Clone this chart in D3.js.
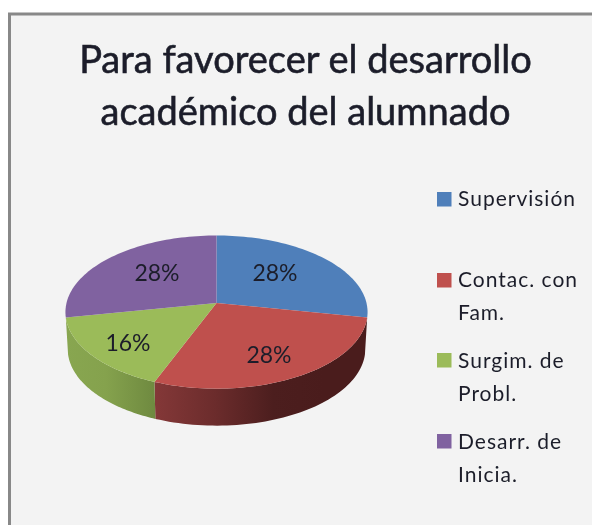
<!DOCTYPE html>
<html><head><meta charset="utf-8">
<script src="https://cdn.jsdelivr.net/npm/d3@7/dist/d3.min.js"></script>
<style>html,body{margin:0;padding:0;background:#fff}svg{display:block}text{font-family:"Lato","Open Sans",sans-serif;fill:#1c1f2a}</style>
</head><body><svg id="c" width="592" height="525"></svg>
<script>
const categories = ["Supervisión", "Contac. con Fam.", "Surgim. de Probl.", "Desarr. de Inicia."];
const legendLines = [["Supervisión"], ["Contac. con", "Fam."], ["Surgim. de", "Probl."], ["Desarr. de", "Inicia."]];
const values = [28, 28, 16, 28];
const colors = ["#4f7fba", "#bf504d", "#9bbb59", "#8062a0"];
const titleLines = ["Para favorecer el desarrollo", "académico del alumnado"];

const svg = d3.select("#c");
const defs = svg.append("defs");
defs.append("filter").attr("id","soft").append("feGaussianBlur").attr("stdDeviation",0.5);

// frame
svg.append("rect").attr("x",9.5).attr("y",14).attr("width",600).attr("height",530)
  .attr("fill","#f3f3f3").attr("stroke","#888").attr("stroke-width",3);

// title
const tg = svg.append("g").attr("filter","url(#soft)");
tg.selectAll("text").data(titleLines).join("text")
  .attr("x",305.5).attr("y",(d,i)=>73+i*52).attr("text-anchor","middle")
  .attr("font-size",38).attr("stroke","#1c1f2a").attr("stroke-width",0.6).text(d=>d);

// perspective pie
const cx=216.5, cy=303, Rx=150, Ry=75.5, tilt=0.1184, depth=37, lowerScale=0.985;
const project=(a,r=1)=>{const u=Math.sin(a)*r,v=Math.cos(a)*r,w=1+tilt*v;return [cx+Rx*u/w,cy-Ry*v/w];};
const lower=p=>[cx+(p[0]-cx)*lowerScale,p[1]+depth];
const arcs=d3.pie().sort(null).value(d=>d)(values);
const line=d3.line();
const rim=(a0,a1)=>d3.range(0,61).map(i=>project(a0+(a1-a0)*i/60));

// side walls
const sideStops=[
 null,
 [[0,"#843838"],[0.35,"#6c2c2c"],[0.7,"#4c1e1e"],[1,"#4a1c1c"]],
 [[0,"#88a650"],[0.45,"#85a24d"],[1,"#6f8a40"]],
 null];
arcs.forEach((d,i)=>{
  if(!sideStops[i])return;
  const pts=rim(d.startAngle,d.endAngle);
  const xs=d3.extent(pts,p=>p[0]);
  const g=defs.append("linearGradient").attr("id","side"+i).attr("gradientUnits","userSpaceOnUse")
    .attr("x1",xs[0]).attr("x2",i===1?xs[0]+170:xs[1]).attr("y1",0).attr("y2",0);
  sideStops[i].forEach(s=>g.append("stop").attr("offset",s[0]).attr("stop-color",s[1]));
  svg.append("path").attr("d",line(pts.concat(pts.slice().reverse().map(lower)))+"Z").attr("fill","url(#side"+i+")");
});

// top faces
svg.selectAll("path.slice").data(arcs).join("path").attr("class","slice")
  .attr("d",d=>line([[cx,cy]].concat(rim(d.startAngle,d.endAngle)))+"Z")
  .attr("fill",(d,i)=>colors[i]);

// value labels
const labelAnchors=[[275,281],[269,363],[128,351],[157,281]];
const lg=svg.append("g").attr("filter","url(#soft)");
lg.selectAll("text").data(values).join("text")
  .attr("x",(d,i)=>labelAnchors[i][0]).attr("y",(d,i)=>labelAnchors[i][1])
  .attr("text-anchor","middle").attr("font-size",23).text(d=>d+"%");

// legend
const swatchTop=[192,273,353,434], baseline=[206,287,368,449], lh=33;
const leg=svg.append("g");
leg.selectAll("rect").data(categories).join("rect")
  .attr("x",437).attr("y",(d,i)=>swatchTop[i]).attr("width",14.5).attr("height",14.5).attr("fill",(d,i)=>colors[i]);
const lt=svg.append("g").attr("filter","url(#soft)");
legendLines.forEach((ls,i)=>ls.forEach((s,j)=>{
  lt.append("text").attr("x",458).attr("y",baseline[i]+j*lh).attr("font-size",21).attr("letter-spacing",1).text(s);
}));
</script></body></html>
